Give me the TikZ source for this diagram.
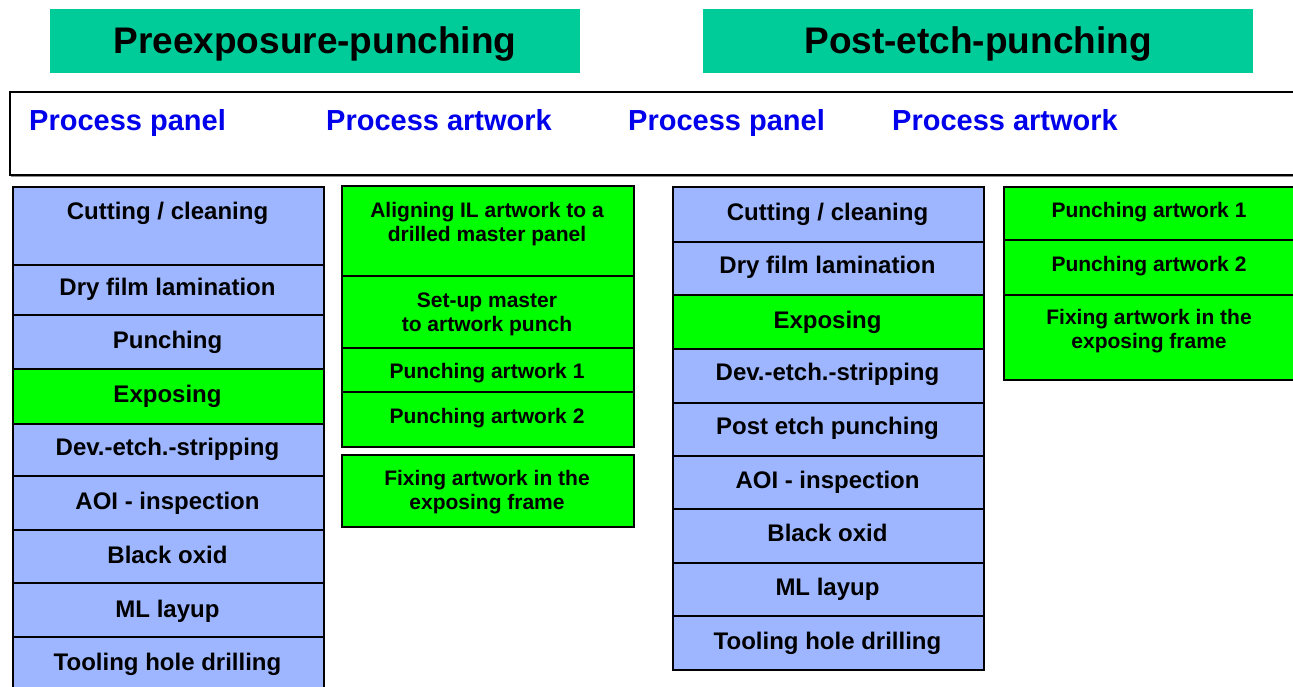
\documentclass[tikz,border=0pt]{standalone}
\usepackage{fontspec}
\setmainfont{Liberation Sans}
\definecolor{tealT}{RGB}{0,204,153}
\definecolor{blueB}{RGB}{158,182,255}
\definecolor{greenB}{RGB}{0,255,0}
\definecolor{blueT}{RGB}{0,0,235}
\begin{document}
\begin{tikzpicture}[x=1pt,y=-1pt,
  cell/.style={draw=black, line width=2pt, anchor=north west, inner sep=0pt},
  bluecell/.style={cell, fill=blueB},
  greencell/.style={cell, fill=greenB},
  titlebox/.style={fill=tealT, anchor=north west, inner sep=0pt},
  lbl/.style={anchor=base, font=\fontsize{24}{28}\selectfont\bfseries, align=center, inner sep=0pt},
  slbl/.style={anchor=base, font=\fontsize{21}{24}\selectfont\bfseries, align=center, inner sep=0pt},
  hlbl/.style={anchor=base west, font=\fontsize{29}{32}\selectfont\bfseries, text=blueT, inner sep=0pt},
  tlbl/.style={anchor=base, font=\fontsize{37}{40}\selectfont\bfseries, inner sep=0pt}]
\useasboundingbox (0,0) rectangle (1293,687);
\clip (0,0) rectangle (1293,687);

% titles
\node[titlebox, minimum width=530pt, minimum height=64pt] (t1) at (50,9) {};
\node[titlebox, minimum width=550pt, minimum height=64pt] (t2) at (703,9) {};
\node[tlbl] (t1l) at (315,54) {Preexposure-punching};
\node[tlbl] (t2l) at (978,54) {Post-etch-punching};

% header box
\node[cell, draw=black!45, line width=1pt, minimum width=1300pt, minimum height=83pt] (hs) at (11,93) {};
\node[cell, fill=white, minimum width=1300pt, minimum height=83pt] (hb) at (9,91) {};
\node[hlbl] (h1) at (29,130.5) {Process panel};
\node[hlbl] (h2) at (326,130.5) {Process artwork};
\node[hlbl] (h3) at (628,130.5) {Process panel};
\node[hlbl] (h4) at (892,130.5) {Process artwork};

% left column (process panel)
\node[bluecell, minimum width=311pt, minimum height=78pt] (a1) at (12,186) {};
\node[bluecell, minimum width=311pt, minimum height=50pt] (a2) at (12,264) {};
\node[bluecell, minimum width=311pt, minimum height=54pt] (a3) at (12,314) {};
\node[greencell, minimum width=311pt, minimum height=55pt] (a4) at (12,368) {};
\node[bluecell, minimum width=311pt, minimum height=52pt] (a5) at (12,423) {};
\node[bluecell, minimum width=311pt, minimum height=54pt] (a6) at (12,475) {};
\node[bluecell, minimum width=311pt, minimum height=53pt] (a7) at (12,529) {};
\node[bluecell, minimum width=311pt, minimum height=54pt] (a8) at (12,582) {};
\node[bluecell, minimum width=311pt, minimum height=60pt] (a9) at (12,636) {};
\node[lbl] (a1l) at (167.5,220) {Cutting / cleaning};
\node[lbl] (a2l) at (167.5,295.5) {Dry film lamination};
\node[lbl] (a3l) at (167.5,348.5) {Punching};
\node[lbl] (a4l) at (167.5,402.5) {Exposing};
\node[lbl] (a5l) at (167.5,455.5) {Dev.-etch.-stripping};
\node[lbl] (a6l) at (167.5,509.5) {AOI - inspection};
\node[lbl] (a7l) at (167.5,563) {Black oxid};
\node[lbl] (a8l) at (167.5,617) {ML layup};
\node[lbl] (a9l) at (167.5,670) {Tooling hole drilling};

% middle column (process artwork)
\node[greencell, minimum width=292pt, minimum height=90pt] (b1) at (341,185) {};
\node[greencell, minimum width=292pt, minimum height=72pt] (b2) at (341,275) {};
\node[greencell, minimum width=292pt, minimum height=44pt] (b3) at (341,347) {};
\node[greencell, minimum width=292pt, minimum height=55pt] (b4) at (341,391) {};
\node[greencell, minimum width=292pt, minimum height=72pt] (b5) at (341,454) {};
\node[slbl] (b1l) at (487,241) {Aligning IL artwork to a\\drilled master panel};
\node[slbl] (b2l) at (487,331.5) {Set-up master\\to artwork punch};
\node[slbl] (b3l) at (487,378.5) {Punching artwork 1};
\node[slbl] (b4l) at (487,423.5) {Punching artwork 2};
\node[slbl] (b5l) at (487,509.5) {Fixing artwork in the\\exposing frame};

% right column (process panel)
\node[bluecell, minimum width=311pt, minimum height=55pt] (c1) at (672,186) {};
\node[bluecell, minimum width=311pt, minimum height=53pt] (c2) at (672,241) {};
\node[greencell, minimum width=311pt, minimum height=54pt] (c3) at (672,294) {};
\node[bluecell, minimum width=311pt, minimum height=54pt] (c4) at (672,348) {};
\node[bluecell, minimum width=311pt, minimum height=53pt] (c5) at (672,402) {};
\node[bluecell, minimum width=311pt, minimum height=53pt] (c6) at (672,455) {};
\node[bluecell, minimum width=311pt, minimum height=54pt] (c7) at (672,508) {};
\node[bluecell, minimum width=311pt, minimum height=53pt] (c8) at (672,562) {};
\node[bluecell, minimum width=311pt, minimum height=54pt] (c9) at (672,615) {};
\node[lbl] (c1l) at (827.5,220.5) {Cutting / cleaning};
\node[lbl] (c2l) at (827.5,273.5) {Dry film lamination};
\node[lbl] (c3l) at (827.5,328.5) {Exposing};
\node[lbl] (c4l) at (827.5,380.5) {Dev.-etch.-stripping};
\node[lbl] (c5l) at (827.5,434.5) {Post etch punching};
\node[lbl] (c6l) at (827.5,488.5) {AOI - inspection};
\node[lbl] (c7l) at (827.5,541.5) {Black oxid};
\node[lbl] (c8l) at (827.5,595.5) {ML layup};
\node[lbl] (c9l) at (827.5,649.5) {Tooling hole drilling};

% right column (process artwork)
\node[greencell, minimum width=291pt, minimum height=53pt] (d1) at (1003,186) {};
\node[greencell, minimum width=291pt, minimum height=55pt] (d2) at (1003,239) {};
\node[greencell, minimum width=291pt, minimum height=85pt] (d3) at (1003,294) {};
\node[slbl] (d1l) at (1149,217.5) {Punching artwork 1};
\node[slbl] (d2l) at (1149,271.5) {Punching artwork 2};
\node[slbl] (d3l) at (1149,348.5) {Fixing artwork in the\\exposing frame};
\end{tikzpicture}
\end{document}
